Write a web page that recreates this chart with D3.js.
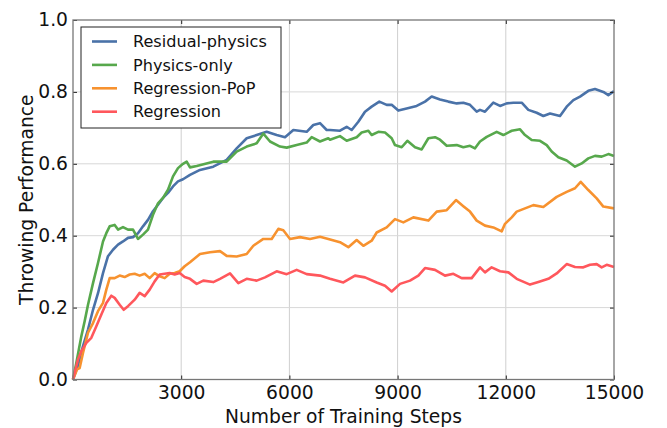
<!DOCTYPE html>
<html lang="en">
<head>
<meta charset="utf-8">
<title>Throwing Performance</title>
<script src="https://d3js.org/d3.v7.min.js"></script>
<style>
  body, html { margin: 0; padding: 0; background: #fff; }
  svg { display: block; font-family: "DejaVu Sans", sans-serif; }
</style>
</head>
<body>
<div id="chart"></div>
<script>
// [training step, throwing performance]
var residualPhysics = [[0,0],[139,0.04],[277,0.093],[416,0.139],[555,0.194],[693,0.24],[832,0.296],[970,0.343],[1109,0.361],[1248,0.375],[1386,0.384],[1525,0.394],[1664,0.396],[1802,0.407],[1941,0.426],[2079,0.444],[2218,0.468],[2357,0.486],[2495,0.505],[2634,0.519],[2773,0.537],[2911,0.551],[3050,0.557],[3244,0.569],[3521,0.583],[3890,0.592],[4261,0.611],[4538,0.643],[4816,0.671],[5093,0.68],[5370,0.689],[5647,0.68],[5878,0.674],[6109,0.694],[6479,0.689],[6663,0.708],[6848,0.713],[7034,0.694],[7126,0.694],[7403,0.692],[7588,0.703],[7727,0.694],[7911,0.717],[8096,0.745],[8281,0.759],[8493,0.773],[8697,0.764],[8836,0.764],[9020,0.748],[9251,0.754],[9529,0.761],[9760,0.773],[9945,0.787],[10176,0.779],[10406,0.773],[10639,0.768],[10822,0.77],[11007,0.764],[11193,0.745],[11285,0.75],[11423,0.745],[11654,0.77],[11840,0.761],[12025,0.768],[12210,0.77],[12441,0.77],[12625,0.75],[12856,0.742],[13041,0.733],[13226,0.74],[13503,0.733],[13688,0.759],[13873,0.777],[14058,0.787],[14288,0.803],[14473,0.808],[14704,0.8],[14843,0.791],[15000,0.802]]

var physicsOnly = [[0,0],[92,0.046],[231,0.12],[323,0.162],[416,0.208],[555,0.268],[693,0.324],[832,0.384],[924,0.407],[1017,0.426],[1155,0.43],[1248,0.417],[1386,0.424],[1525,0.417],[1664,0.417],[1802,0.391],[1941,0.403],[2079,0.417],[2218,0.458],[2357,0.49],[2495,0.505],[2634,0.528],[2773,0.565],[2911,0.588],[3050,0.6],[3152,0.606],[3244,0.59],[3430,0.594],[3890,0.606],[4261,0.606],[4538,0.634],[4816,0.648],[5093,0.657],[5277,0.684],[5462,0.662],[5739,0.648],[5925,0.645],[6202,0.652],[6479,0.659],[6618,0.674],[6848,0.662],[7079,0.671],[7126,0.667],[7403,0.677],[7588,0.664],[7865,0.674],[8004,0.687],[8189,0.692],[8281,0.68],[8466,0.689],[8651,0.687],[8836,0.671],[8928,0.652],[9113,0.646],[9270,0.664],[9483,0.646],[9668,0.64],[9853,0.671],[10037,0.674],[10176,0.667],[10361,0.65],[10639,0.652],[10822,0.646],[11007,0.65],[11146,0.643],[11285,0.662],[11470,0.675],[11747,0.689],[11932,0.68],[12164,0.692],[12395,0.696],[12533,0.68],[12718,0.666],[12949,0.664],[13134,0.652],[13272,0.634],[13457,0.618],[13688,0.609],[13919,0.592],[14104,0.601],[14288,0.615],[14473,0.622],[14658,0.62],[14843,0.627],[15000,0.622]]

var regressionPoP = [[0,0],[111,0.028],[185,0.032],[277,0.074],[416,0.13],[555,0.157],[693,0.19],[832,0.213],[924,0.25],[1017,0.282],[1155,0.282],[1294,0.289],[1432,0.285],[1571,0.292],[1710,0.294],[1848,0.289],[1987,0.294],[2126,0.282],[2264,0.296],[2403,0.287],[2541,0.282],[2680,0.294],[2819,0.296],[2957,0.301],[3096,0.315],[3244,0.326],[3521,0.349],[3798,0.354],[4076,0.357],[4261,0.344],[4538,0.342],[4816,0.349],[5000,0.372],[5277,0.391],[5509,0.391],[5693,0.419],[5831,0.415],[6017,0.391],[6294,0.396],[6571,0.391],[6848,0.397],[7079,0.391],[7403,0.382],[7634,0.368],[7865,0.388],[8050,0.372],[8281,0.386],[8420,0.409],[8697,0.423],[8928,0.446],[9159,0.437],[9437,0.451],[9853,0.442],[10084,0.467],[10361,0.471],[10619,0.499],[10822,0.482],[11007,0.467],[11193,0.442],[11423,0.428],[11654,0.423],[11886,0.412],[11978,0.433],[12164,0.451],[12302,0.467],[12764,0.485],[13041,0.48],[13411,0.508],[13688,0.522],[13919,0.532],[14077,0.55],[14288,0.527],[14520,0.504],[14704,0.481],[15000,0.476]]

var regression = [[0,0],[139,0.056],[231,0.079],[370,0.102],[508,0.116],[647,0.148],[786,0.181],[924,0.213],[1063,0.233],[1155,0.227],[1294,0.208],[1405,0.194],[1525,0.204],[1710,0.222],[1848,0.241],[1987,0.232],[2126,0.25],[2264,0.273],[2403,0.292],[2541,0.294],[2680,0.296],[2819,0.292],[2957,0.296],[3096,0.285],[3244,0.28],[3430,0.266],[3614,0.275],[3890,0.271],[4076,0.28],[4353,0.295],[4584,0.268],[4816,0.28],[5093,0.275],[5324,0.284],[5647,0.301],[5925,0.293],[6202,0.305],[6479,0.293],[6848,0.289],[7126,0.28],[7496,0.27],[7819,0.289],[8096,0.284],[8420,0.27],[8651,0.261],[8836,0.245],[9067,0.266],[9344,0.275],[9575,0.289],[9760,0.31],[10037,0.305],[10314,0.289],[10546,0.294],[10776,0.282],[11054,0.282],[11285,0.312],[11423,0.298],[11608,0.312],[11840,0.301],[12072,0.298],[12302,0.28],[12672,0.264],[12903,0.271],[13180,0.28],[13411,0.295],[13688,0.321],[13919,0.313],[14150,0.312],[14335,0.319],[14520,0.321],[14658,0.312],[14797,0.319],[15000,0.313]]

var seriesNames = ["Residual-physics", "Physics-only", "Regression-PoP", "Regression"]
var seriesColors = ["#4a72a8", "#57a84c", "#f7922f", "#ff575c"]
var xTicks = [3000, 6000, 9000, 12000, 15000]
var yTicks = [0, 0.2, 0.4, 0.6, 0.8, 1.0]

var W = 667, H = 428
var margin = {top: 20, right: 53, bottom: 48.5, left: 73}
var w = W - margin.left - margin.right
var h = H - margin.top - margin.bottom
var fontSize = 18.7

var svg = d3.select("#chart").append("svg")
	.attr("width", W)
	.attr("height", H)

var xScale = d3.scaleLinear().domain([0, 15000]).range([0, w])
var yScale = d3.scaleLinear().domain([0, 1]).range([h, 0])

var g = svg.append("g")
	.attr("transform", "translate(" + margin.left + "," + margin.top + ")")

// grid
g.selectAll("line.vgrid")
	.data(xTicks.filter(d => d < 15000))
	.enter().append("line")
	.attr("class", "vgrid")
	.attr("x1", d => xScale(d)).attr("x2", d => xScale(d))
	.attr("y1", 0).attr("y2", h)
	.attr("stroke", "#cfcfcf").attr("stroke-width", 1)

g.selectAll("line.hgrid")
	.data(yTicks.filter(d => d > 0 && d < 1))
	.enter().append("line")
	.attr("class", "hgrid")
	.attr("x1", 0).attr("x2", w)
	.attr("y1", d => yScale(d)).attr("y2", d => yScale(d))
	.attr("stroke", "#d8d8d8").attr("stroke-width", 1)

// lines
var line = d3.line()
	.x(d => xScale(d[0]))
	.y(d => yScale(d[1]))

var allSeries = [residualPhysics, physicsOnly, regressionPoP, regression]
allSeries.forEach((data, i) => {
	g.append("path")
		.attr("d", line(data))
		.attr("fill", "none")
		.attr("stroke", seriesColors[i])
		.attr("stroke-width", 2.6)
		.attr("stroke-linejoin", "round")
})

// axes, ticks pointing inward on all four sides
var bottomAxis = g.append("g")
	.attr("transform", "translate(0," + h + ")")
	.call(d3.axisBottom(xScale).tickValues(xTicks).tickFormat(d3.format("d")).tickSize(-4).tickPadding(6).tickSizeOuter(0))
var topAxis = g.append("g")
	.call(d3.axisTop(xScale).tickValues(xTicks).tickSize(-4).tickFormat("").tickSizeOuter(0))
var leftAxis = g.append("g")
	.call(d3.axisLeft(yScale).tickValues(yTicks).tickFormat(d3.format(".1f")).tickSize(-4).tickPadding(5).tickSizeOuter(0))
var rightAxis = g.append("g")
	.attr("transform", "translate(" + w + ",0)")
	.call(d3.axisRight(yScale).tickValues(yTicks).tickFormat("").tickSize(-4).tickSizeOuter(0))

;[bottomAxis, topAxis, leftAxis, rightAxis].forEach(a => {
	a.select(".domain").remove()
	a.selectAll(".tick line").attr("stroke", "#222").attr("stroke-width", 1)
	a.selectAll(".tick text")
		.attr("fill", "#111")
		.style("font-size", fontSize + "px")
		.style("font-family", "DejaVu Sans")
})

// frame
g.append("rect")
	.attr("x", 0).attr("y", 0)
	.attr("width", w).attr("height", h)
	.attr("fill", "none")
	.attr("stroke", "#777")
	.attr("stroke-width", 1.3)

// axis labels
svg.append("text")
	.text("Number of Training Steps")
	.attr("text-anchor", "middle")
	.attr("x", margin.left + w / 2)
	.attr("y", 423)
	.attr("font-size", fontSize)
	.attr("fill", "#111")

svg.append("text")
	.text("Throwing Performance")
	.attr("text-anchor", "middle")
	.attr("transform", "translate(32.5," + (margin.top + h / 2) + ") rotate(-90)")
	.attr("font-size", fontSize)
	.attr("fill", "#111")

// legend
var legend = svg.append("g").attr("transform", "translate(81,27)")
legend.append("rect")
	.attr("width", 200).attr("height", 101)
	.attr("fill", "#fff")
	.attr("stroke", "#222")
	.attr("stroke-width", 1)

seriesNames.forEach((name, i) => {
	var yy = 14.5 + i * 23.4
	legend.append("line")
		.attr("x1", 11).attr("x2", 36)
		.attr("y1", yy).attr("y2", yy)
		.attr("stroke", seriesColors[i])
		.attr("stroke-width", 2.6)
	legend.append("text")
		.text(name)
		.attr("x", 52)
		.attr("y", yy)
		.attr("dy", "0.36em")
		.attr("font-size", 16.1)
		.attr("fill", "#111")
})
</script>
</body>
</html>
